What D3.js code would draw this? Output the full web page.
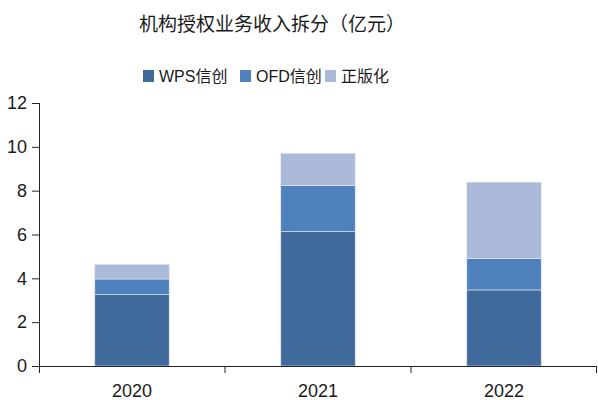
<!DOCTYPE html>
<html>
<head>
<meta charset="utf-8">
<script src="https://cdn.jsdelivr.net/npm/d3@7"></script>
<style>
  body { margin: 0; background: #fff; }
  text { font-family: "Liberation Sans", Arial, "Noto Sans CJK SC", sans-serif; }
</style>
</head>
<body>
<div id="chart"></div>
<script>
// data
var years = ["2020", "2021", "2022"];
var seriesNames = ["WPS信创", "OFD信创", "正版化"];
var wps = [3.26, 6.13, 3.47];
var ofd = [0.71, 2.10, 1.43];
var zbh = [0.67, 1.48, 3.49];
var yTicks = [0, 2, 4, 6, 8, 10, 12];
var colors = ["#416a9c", "#4f81bd", "#abbad8"];

var svgWidth = 598;
var svgHeight = 400;

var margin = {
  top: 103,
  right: 1,
  bottom: 34,
  left: 39
};

var width = svgWidth - margin.left - margin.right;
var height = svgHeight - margin.top - margin.bottom;

var svg = d3.select("#chart")
  .append("svg")
  .attr("width", svgWidth)
  .attr("height", svgHeight);

var chartGroup = svg.append("g")
  .attr("transform", `translate(${margin.left}, ${margin.top})`);

var table = years.map((y, i) => ({
  year: y,
  "WPS信创": wps[i],
  "OFD信创": ofd[i],
  "正版化": zbh[i]
}));

var stacked = d3.stack().keys(seriesNames)(table);

var xBandScale = d3.scaleBand()
  .domain(years)
  .range([0, width])
  .paddingInner(0)
  .paddingOuter(0);

var barWidth = xBandScale.bandwidth() * 0.4;

var yLinearScale = d3.scaleLinear()
  .domain([0, 12])
  .range([height, 0]);

// bars
chartGroup.selectAll(".layer")
  .data(stacked)
  .enter()
  .append("g")
  .attr("class", "layer")
  .attr("fill", (d, i) => colors[i])
  .selectAll("rect")
  .data(d => d)
  .enter()
  .append("rect")
  .attr("x", d => xBandScale(d.data.year) + (xBandScale.bandwidth() - barWidth) / 2)
  .attr("y", d => yLinearScale(d[1]))
  .attr("width", barWidth)
  .attr("height", d => yLinearScale(d[0]) - yLinearScale(d[1]))
  .attr("stroke", "#e4e9f2")
  .attr("stroke-width", 0.6);

// y axis
var leftAxis = d3.axisLeft(yLinearScale)
  .tickValues(yTicks)
  .tickSizeOuter(0)
  .tickSize(7)
  .tickPadding(5);

var yAxisGroup = chartGroup.append("g")
  .call(leftAxis);

yAxisGroup.select(".domain")
  .attr("d", `M0.5,0V${height + 7}`);

// x axis
var boundaries = d3.range(years.length + 1).map(i => i * xBandScale.step());

var xAxisGroup = chartGroup.append("g")
  .attr("transform", `translate(0, ${height})`);

xAxisGroup.append("line")
  .attr("x1", 0)
  .attr("x2", width)
  .attr("y1", 0.5)
  .attr("y2", 0.5)
  .attr("stroke", "#222");

xAxisGroup.selectAll(".sep")
  .data(boundaries.slice(1))
  .enter()
  .append("line")
  .attr("class", "sep")
  .attr("x1", d => Math.min(d, width - 0.5))
  .attr("x2", d => Math.min(d, width - 0.5))
  .attr("y1", 0)
  .attr("y2", 7)
  .attr("stroke", "#222");

xAxisGroup.selectAll(".xlab")
  .data(years)
  .enter()
  .append("text")
  .attr("class", "xlab")
  .attr("x", d => xBandScale(d) + xBandScale.bandwidth() / 2)
  .attr("y", 31)
  .attr("text-anchor", "middle")
  .attr("font-size", "18px")
  .attr("fill", "#1a1a1a")
  .text(d => d);

yAxisGroup.selectAll("line").attr("stroke", "#222");
yAxisGroup.select(".domain").attr("stroke", "#222");
yAxisGroup.selectAll("text")
  .attr("font-size", "18px")
  .attr("fill", "#1a1a1a")
  .attr("font-family", "'Liberation Sans', Arial, sans-serif");

// title
svg.append("text")
  .attr("x", 272)
  .attr("y", 31)
  .attr("text-anchor", "middle")
  .attr("font-size", "19px")
  .attr("fill", "#1a1a1a")
  .style("font-family", "'Noto Sans CJK SC', sans-serif")
  .text("机构授权业务收入拆分（亿元）");

// legend
var legendX = [143, 240, 325];
var legend = svg.selectAll(".legend")
  .data(seriesNames)
  .enter()
  .append("g")
  .attr("class", "legend")
  .attr("transform", (d, i) => `translate(${legendX[i]}, 70)`);

legend.append("rect")
  .attr("width", 11)
  .attr("height", 12)
  .attr("fill", (d, i) => colors[i]);

legend.append("text")
  .attr("x", 16)
  .attr("y", 12)
  .attr("font-size", "16px")
  .attr("fill", "#1a1a1a")
  .text(d => d);
</script>
</body>
</html>
